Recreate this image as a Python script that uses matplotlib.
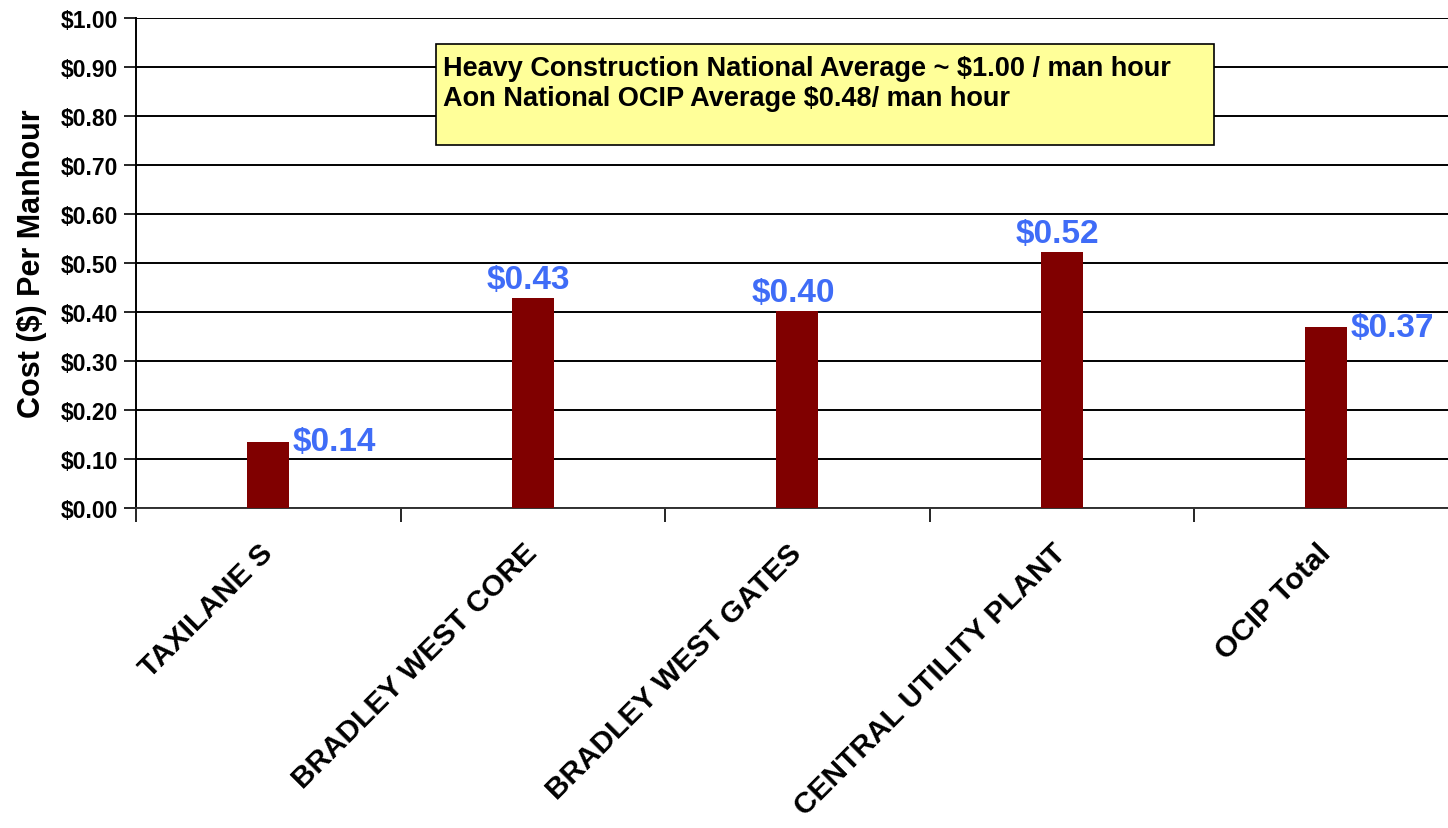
import matplotlib
matplotlib.use("Agg")
import matplotlib.pyplot as plt
from matplotlib.patches import Rectangle
from matplotlib.transforms import ScaledTranslation

# ---- data ----
categories = ["TAXILANE S", "BRADLEY WEST CORE", "BRADLEY WEST GATES",
              "CENTRAL UTILITY PLANT", "OCIP Total"]
values = [0.135, 0.429, 0.402, 0.522, 0.369]
value_labels = ["$0.14", "$0.43", "$0.40", "$0.52", "$0.37"]
yticks = [0.0, 0.1, 0.2, 0.3, 0.4, 0.5, 0.6, 0.7, 0.8, 0.9, 1.0]
ytick_labels = ["$0.00", "$0.10", "$0.20", "$0.30", "$0.40", "$0.50",
                "$0.60", "$0.70", "$0.80", "$0.90", "$1.00"]
ylabel = "Cost ($) Per Manhour"
note_lines = ["Heavy Construction National Average ~ $1.00 / man hour",
              "Aon National OCIP Average $0.48/ man hour"]
label_side = ["right", "above", "above", "above", "right"]

plt.rcParams['font.family'] = ['Liberation Sans', 'DejaVu Sans']

W, H = 1448, 829
fig = plt.figure(figsize=(W / 100, H / 100), dpi=100)
left_px, right_px, top_px, bot_px = 136, 1458.5, 19, 509
ax = fig.add_axes([left_px / W, (H - bot_px) / H,
                   (right_px - left_px) / W, (bot_px - top_px) / H])

x = list(range(len(categories)))
bars = ax.bar(x, values, width=0.16, color="#800000", zorder=3)

ax.set_xlim(-0.5, len(categories) - 0.5)
ax.set_ylim(0, 1.0)

# grid
ax.set_yticks(yticks)
ax.set_yticklabels(ytick_labels, fontsize=16.5, fontweight="bold")
ax.yaxis.grid(True, color="black", linewidth=1.4, zorder=0)
ax.set_axisbelow(True)
ax.tick_params(axis="y", direction="out", length=9, width=1.2, pad=4)

# x ticks: boundaries as major, labels at centers as minor
ax.set_xticks([i - 0.5 for i in range(len(categories) + 1)])
ax.set_xticklabels([])
ax.tick_params(axis="x", which="major", direction="out", length=10, width=1.2)
ax.set_xticks(x, minor=True)
ax.set_xticklabels(categories, minor=True, rotation=45, ha="right", va="top",
                   fontsize=21.5, fontweight="bold")
ax.tick_params(axis="x", which="minor", length=0, pad=22)
shift = ScaledTranslation(10 / 100, 0, fig.dpi_scale_trans)
for lbl in ax.get_xticklabels(minor=True):
    lbl.set_transform(lbl.get_transform() + shift)

for s in ["top", "right"]:
    ax.spines[s].set_visible(False)
ax.spines["left"].set_linewidth(1.4)
ax.spines["bottom"].set_linewidth(1.4)
ax.spines["bottom"].set_color("#333333")

ax.set_ylabel(ylabel, fontsize=22, fontweight="bold")
ax.yaxis.set_label_coords(-0.067, 0.5)

# value labels
for xi, v, lab, side in zip(x, values, value_labels, label_side):
    if side == "right":
        ax.annotate(lab, xy=(xi + 0.08, v), xytext=(2, 0), textcoords="offset points",
                    ha="left", va="center", fontsize=24, fontweight="bold",
                    color="#3F6CF7", zorder=4)
    else:
        ax.annotate(lab, xy=(xi, v), xytext=(-3, 2), textcoords="offset points",
                    ha="center", va="bottom", fontsize=24, fontweight="bold",
                    color="#3F6CF7", zorder=4)

# note box
bx0 = (436 - left_px) / (right_px - left_px)
bx1 = (1214 - left_px) / (right_px - left_px)
by0 = (bot_px - 146) / (bot_px - top_px)
by1 = (bot_px - 45) / (bot_px - top_px)
ax.add_patch(Rectangle((bx0, by0), bx1 - bx0, by1 - by0, transform=ax.transAxes,
                       facecolor="#FFFF99", edgecolor="black", linewidth=1.2,
                       zorder=5))
ax.text(bx0 + 0.005, by1 - 0.022, "\n".join(note_lines), transform=ax.transAxes,
        ha="left", va="top", fontsize=19.5, fontweight="bold", linespacing=1.2,
        zorder=6)

fig.savefig("out.png", dpi=100)
